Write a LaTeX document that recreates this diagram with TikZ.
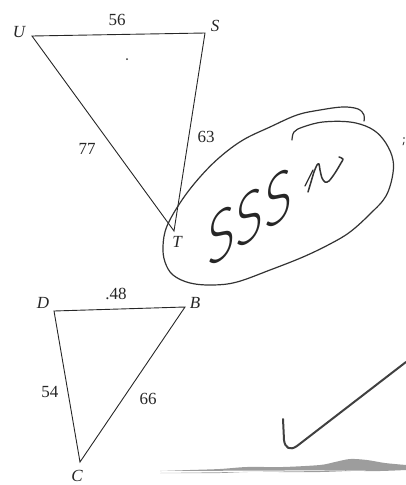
\documentclass[tikz,border=0pt]{standalone}
\usepackage{fontspec}
\setmainfont{Liberation Serif}
\IfFontExistsTF{Lato Light}{\newfontfamily\handfont{Lato Light}}{\newfontfamily\handfont{Lato}}
\begin{document}
\begin{tikzpicture}[x=1pt,y=-1pt,
  edge/.style={draw=black!85,line width=0.9pt},
  lbl/.style={inner sep=0pt,font=\fontsize{17}{20}\selectfont\itshape,text=black!85},
  num/.style={inner sep=0pt,font=\fontsize{17}{20}\selectfont,text=black!85},
  pen/.style={draw=black!80,line width=1.3pt,line cap=round,line join=round},
  speck/.style={fill=black!80}]
\useasboundingbox (0,0) rectangle (406,485);
% triangle UST
\coordinate (U) at (32,36);
\coordinate (S) at (205,33);
\coordinate (T) at (174,231);
\draw[edge] (U) -- (S) -- (T) -- cycle;
\node[lbl] (lU) at (19,32) {U};
\node[lbl] (lS) at (215,26) {S};
\node[lbl] (lT) at (177,242) {T};
\node[num] (n56) at (117,20) {56};
\node[num] (n77) at (87,149) {77};
\node[num] (n63) at (206,137) {63};
\fill[speck] (127,59) circle (1pt);
% triangle DBC
\coordinate (D) at (54,311);
\coordinate (B) at (185,307);
\coordinate (C) at (80,462);
\draw[edge] (D) -- (B) -- (C) -- cycle;
\node[lbl] (lD) at (43,303) {D};
\node[lbl] (lB) at (195,303) {B};
\node[lbl] (lC) at (77,476) {C};
\node[num] (n48) at (116,294) {.48};
\node[num] (n54) at (50,392) {54};
\node[num] (n66) at (148,399) {66};
% handwritten ellipse
\draw[pen,line width=1.2pt] plot[smooth,tension=0.6] coordinates {
 (292,140) (294,132) (303,127) (323,122) (350,122) (370,128) (383,139)
 (392,156) (393,173) (386,196) (370,214) (350,232) (330,244) (303,257)
 (270,270) (237,282) (213,285) (190,283) (173,275) (165,262) (163,246)
 (167,226) (182,200) (200,177) (220,157) (243,140) (270,127) (297,115)
 (320,110) (343,107) (358,109) (364,115) (364,121)};
% SSS
\node[inner sep=0pt,font=\handfont\fontsize{70}{70}\selectfont,text=black!85,
      xscale=0.75,yslant=0.5] (sss) at (250,217) {SSS};
% similarity squiggle
\draw[pen,line width=1.5pt] plot[smooth,tension=0.5] coordinates {
 (308,192) (311,182) (314,172) (317,165) (319,164) (320,170) (322,178)
 (325,182) (329,181) (335,173) (341,163) (343,159) (339,157)};
\draw[pen,line width=1.2pt] (305,186) -- (313,170);
% small mark at right edge
\fill[speck] (404,138) circle (0.8pt);
\draw[pen,line width=0.8pt] (404,142) -- (403,145);
% check mark
\draw[draw=black!75,line width=2pt,line cap=round,line join=round]
  (283,419) -- (284,440) .. controls (285,448) and (290,451) .. (297,446) -- (406,362);
% gray smudge
\fill[black!45,opacity=0.85] plot[smooth,tension=0.5] coordinates {
 (160,471) (190,470) (220,469) (247,467) (283,467) (320,465) (335,462)
 (350,459) (367,460) (385,463) (406,465)} -- (406,470)
 plot[smooth,tension=0.5] coordinates {(406,470) (380,471) (350,471) (320,472)
 (283,472) (247,472) (220,473) (190,473) (160,473)} -- cycle;
\end{tikzpicture}
\end{document}
